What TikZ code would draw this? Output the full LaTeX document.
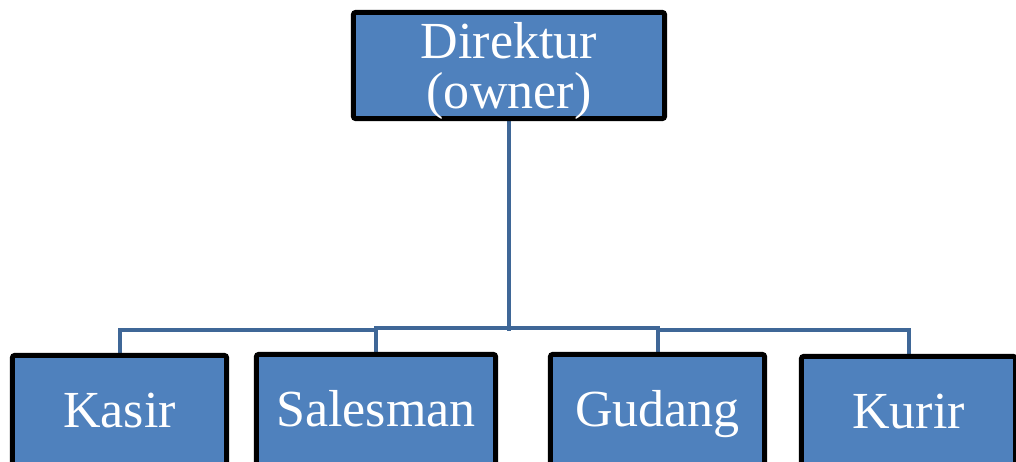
\documentclass[tikz,border=0pt]{standalone}
\usepackage{fontspec}
\setmainfont{Liberation Serif}
\usepackage{xcolor}
\usetikzlibrary{positioning, backgrounds}

\definecolor{boxblue}{HTML}{4F81BD}
\definecolor{lineblue}{HTML}{3F6797}

\begin{document}
\begin{tikzpicture}[
    x=0.025cm, y=-0.025cm,
    % Org chart boxes - blue with black frame
    unit/.style={
        rectangle, draw=black, rounded corners=1.5pt,
        line width=0.125cm, fill=boxblue, text=white,
        minimum height=2.65cm, inner sep=0pt,
        align=center, font=\fontsize{37}{36}\selectfont
    },
    % Bottom row runs past the lower edge
    staff/.style={unit, minimum height=2.95cm,
        text height=0.625cm, text depth=0pt},
    conn/.style={lineblue, line width=0.1cm},
]

% Frame of the picture
\clip (0,0) rectangle (1016,461);
\useasboundingbox (0,0) rectangle (1016,461);

% Top of the chart
\node[unit, minimum width=7.775cm, text depth=0pt] (dir) at (509,65.5) {Direktur\\(owner)};

% Staff - bottom row
\node[staff, minimum width=5.35cm] (kasir) at (119.5,414.5) {Kasir};
\node[staff, minimum width=5.975cm] (sales) at (376,413.5) {Salesman};
\node[staff, minimum width=5.35cm] (gudang) at (657.5,413.5) {Gudang};
\node[staff, minimum width=5.35cm] (kurir) at (908.5,415.5) {Kurir};

% Connectors behind the boxes
\begin{scope}[on background layer]
\draw[conn] (kasir.north) -- ++(0,-22.5) -| (sales.north);
\draw[conn] (sales.north) -- ++(0,-23.5) -| (gudang.north);
\draw[conn] (gudang.north) -- ++(0,-21.5) -| (kurir.north);
\draw[conn] (dir.south) -- (dir.south |- 0,331);
\end{scope}

\end{tikzpicture}
\end{document}
